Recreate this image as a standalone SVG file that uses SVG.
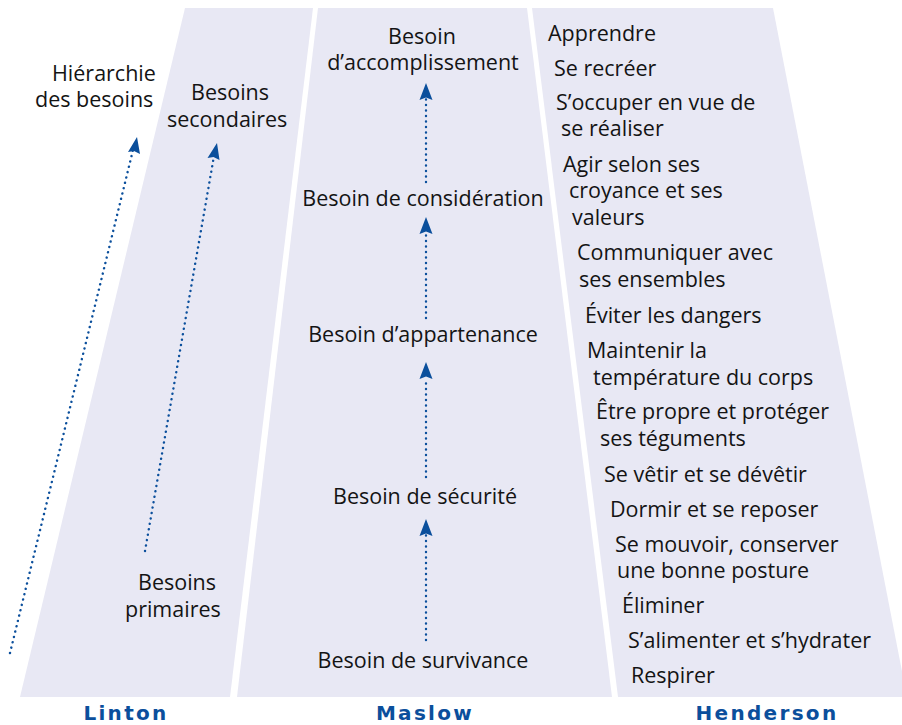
<svg xmlns="http://www.w3.org/2000/svg" width="902" height="725" viewBox="0 0 902 725">
<defs>
<style>
.panel{fill:#e8e8f4;}
.t{font-family:"Open Sans","DejaVu Sans",sans-serif;font-size:21.5px;fill:#141414;}
.lbl{font-family:"DejaVu Sans",Verdana,sans-serif;font-weight:bold;font-size:20px;fill:#0b4f9c;text-anchor:middle;letter-spacing:2.3px;}
.dot{stroke:#0b4f9c;stroke-width:2.4;stroke-linecap:round;stroke-dasharray:0.1 5.4;fill:none;}
.head{fill:#0b4f9c;}
</style>
</defs>
<rect width="902" height="725" fill="#ffffff"/>
<g id="panels">
<polygon id="linton-panel" class="panel" points="185,8 313,8 230,697 20,697"/>
<polygon id="maslow-panel" class="panel" points="318,8 527,8 612,697 237,697"/>
<polygon id="henderson-panel" class="panel" points="532,8 773,8 907,697 618,697"/>
</g>
<g id="connectors">
<line class="dot" x1="10" y1="653" x2="133" y2="150"/>
<path class="head" d="M137 137 L140 154 L134 151 L128 152 Z"/>
<line class="dot" x1="145" y1="551" x2="214" y2="156"/>
<path class="head" d="M217 143 L219.5 160 L213.5 157 L207.5 158 Z"/>
<line class="dot" x1="426" y1="182" x2="426" y2="98"/>
<path class="head" d="M426 83 L432.5 100 L426 97.5 L419.5 100 Z"/>
<line class="dot" x1="426" y1="318" x2="426" y2="233"/>
<path class="head" d="M426 217 L432.5 234 L426 231.5 L419.5 234 Z"/>
<line class="dot" x1="426" y1="477" x2="426" y2="378"/>
<path class="head" d="M426 362 L432.5 379 L426 376.5 L419.5 379 Z"/>
<line class="dot" x1="426" y1="640" x2="426" y2="535"/>
<path class="head" d="M426 519 L432.5 536 L426 533.5 L419.5 536 Z"/>
</g>
<g id="linton">
<g id="hierarchie"><text class="t" x="52" y="81">Hiérarchie</text><text class="t" x="35" y="107">des besoins</text></g>
<g id="secondaires"><text class="t" x="191" y="100">Besoins</text><text class="t" x="167" y="127">secondaires</text></g>
<g id="primaires"><text class="t" x="138" y="590">Besoins</text><text class="t" x="125" y="617">primaires</text></g>
</g>
<g id="maslow">
<g id="accomplissement"><text class="t" x="422" y="44" text-anchor="middle">Besoin</text><text class="t" x="423" y="70" text-anchor="middle">d’accomplissement</text></g>
<g id="consideration"><text class="t" x="423" y="206" text-anchor="middle">Besoin de considération</text></g>
<g id="appartenance"><text class="t" x="423" y="342" text-anchor="middle">Besoin d’appartenance</text></g>
<g id="securite"><text class="t" x="425" y="504" text-anchor="middle">Besoin de sécurité</text></g>
<g id="survivance"><text class="t" x="423" y="668" text-anchor="middle">Besoin de survivance</text></g>
</g>
<g id="henderson">
<text class="t" x="548" y="41">Apprendre</text>
<text class="t" x="554" y="76">Se recréer</text>
<text class="t" x="556" y="110">S’occuper en vue de</text>
<text class="t" x="561" y="136">se réaliser</text>
<text class="t" x="563" y="172">Agir selon ses</text>
<text class="t" x="569" y="198">croyance et ses</text>
<text class="t" x="572" y="225">valeurs</text>
<text class="t" x="577" y="260">Communiquer avec</text>
<text class="t" x="579" y="287">ses ensembles</text>
<text class="t" x="585" y="323">Éviter les dangers</text>
<text class="t" x="587" y="358">Maintenir la</text>
<text class="t" x="593" y="385">température du corps</text>
<text class="t" x="596" y="419">Être propre et protéger</text>
<text class="t" x="600" y="446">ses téguments</text>
<text class="t" x="604" y="482">Se vêtir et se dévêtir</text>
<text class="t" x="610" y="517">Dormir et se reposer</text>
<text class="t" x="615" y="552">Se mouvoir, conserver</text>
<text class="t" x="617" y="578">une bonne posture</text>
<text class="t" x="622" y="613">Éliminer</text>
<text class="t" x="628" y="648">S’alimenter et s’hydrater</text>
<text class="t" x="631" y="683">Respirer</text>
</g>
<g id="labels">
<text class="lbl" x="126" y="720">Linton</text>
<text class="lbl" x="425" y="720">Maslow</text>
<text class="lbl" x="767" y="720">Henderson</text>
</g>
</svg>
